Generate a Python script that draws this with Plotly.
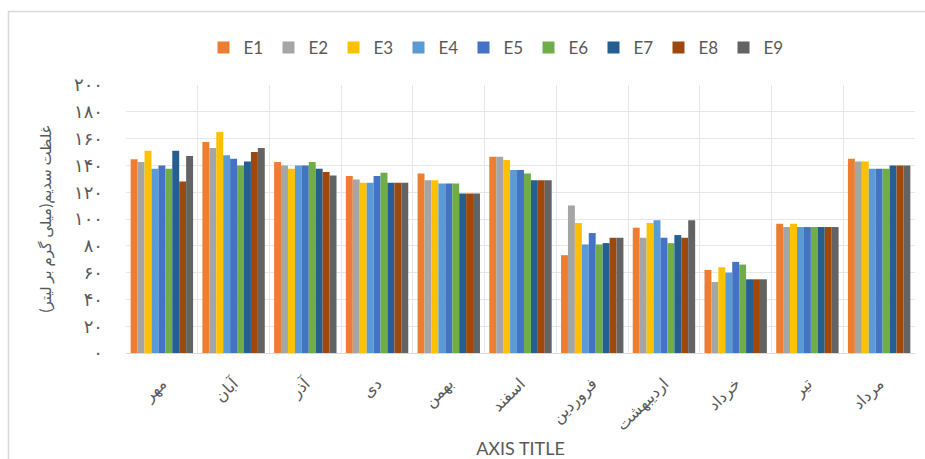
import plotly.graph_objects as go

# Months (Persian calendar)
months = ["مهر", "آبان", "آذر", "دی", "بهمن", "اسفند",
          "فروردین", "اردیبهشت", "خرداد", "تیر", "مرداد"]

# Sodium concentration (mg/L) per station
E1 = [144.5, 157.5, 142.5, 132, 134, 146.5, 73, 93.5, 62, 96.5, 145]
E2 = [142.5, 153, 140, 129.5, 129, 146.5, 110, 86, 53, 94, 143]
E3 = [151, 165, 137.5, 127, 129, 144, 97, 97, 64, 96.5, 143]
E4 = [137.5, 147.5, 140, 127, 126.5, 136.5, 81, 99, 60, 94, 137.5]
E5 = [140, 145, 140, 132, 126.5, 136.5, 89.5, 86, 68, 94, 137.5]
E6 = [137.5, 140, 142.5, 134.5, 126.5, 134, 81, 82, 66, 94, 137.5]
E7 = [151, 143, 137.5, 127, 119, 129, 82, 88, 55, 94, 140]
E8 = [128, 150, 135, 127, 119, 129, 86, 86, 55, 94, 140]
E9 = [147, 153, 132.5, 127, 119, 129, 86, 99, 55, 94, 140]

series_names = ["E1", "E2", "E3", "E4", "E5", "E6", "E7", "E8", "E9"]
series_values = [E1, E2, E3, E4, E5, E6, E7, E8, E9]
colors = ["#ED7D31", "#A5A5A5", "#FFC000", "#5B9BD5", "#4472C4",
          "#70AD47", "#255E91", "#9E480E", "#636363"]

# y-axis ticks written with Persian digits
tick_vals = [0, 20, 40, 60, 80, 100, 120, 140, 160, 180, 200]
tick_text = ["۰", "۲۰", "۴۰", "۶۰", "۸۰", "۱۰۰", "۱۲۰", "۱۴۰", "۱۶۰", "۱۸۰", "۲۰۰"]

FONT = "Lato, DejaVu Sans, sans-serif"
TXT = "#595959"
GRID = "#E6E6E6"

fig = go.Figure()
for name, vals, col in zip(series_names, series_values, colors):
    fig.add_trace(go.Bar(name=name, x=months, y=vals,
                         marker=dict(color=col, line=dict(width=0))))

W, H = 925, 459
ml, mr, mt, mb = 126, 10, 85, 106
pw, ph = W - ml - mr, H - mt - mb

fig.update_layout(
    width=W, height=H,
    margin=dict(l=ml, r=mr, t=mt, b=mb, autoexpand=False),
    paper_bgcolor="white", plot_bgcolor="white",
    barmode="group", bargap=0.13, bargroupgap=0,
    font=dict(family=FONT, color=TXT),
    legend=dict(orientation="h", x=(496 - ml) / pw, xanchor="center",
                y=1 + (mt - 48) / ph, yanchor="middle",
                font=dict(size=17, color=TXT),
                entrywidth=20, entrywidthmode="pixels",
                itemclick=False, itemdoubleclick=False),
    xaxis=dict(
        automargin=False,
        tickson="boundaries", ticks="", showgrid=True, gridcolor=GRID,
        gridwidth=1, showline=True, linecolor="#D9D9D9", linewidth=1,
        tickangle=-45, tickfont=dict(size=16, color=TXT),
        ticklabelstandoff=14,
        title=dict(text="AXIS TITLE", font=dict(size=18, color=TXT),
                   standoff=14),
    ),
    yaxis=dict(
        automargin=False,
        range=[0, 200], tickvals=tick_vals, ticktext=tick_text,
        showgrid=True, gridcolor=GRID, gridwidth=1, zeroline=False,
        showline=False, ticks="", tickfont=dict(size=18, color=TXT),
        ticklabelstandoff=22,
        title=dict(text="غلظت سدیم(میلی گرم بر لیتر)",
                   font=dict(size=15, color=TXT), standoff=18),
    ),
    shapes=[dict(type="rect", xref="paper", yref="paper",
                 x0=(8.5 - ml) / pw, x1=(W + 20 - ml) / pw,
                 y0=-(H + 20 - (H - mb)) / ph, y1=1 + (mt - 11.5) / ph,
                 line=dict(color="#D9D9D9", width=1.5),
                 fillcolor="rgba(0,0,0,0)", layer="below")],
)

fig.write_html("out.html")
